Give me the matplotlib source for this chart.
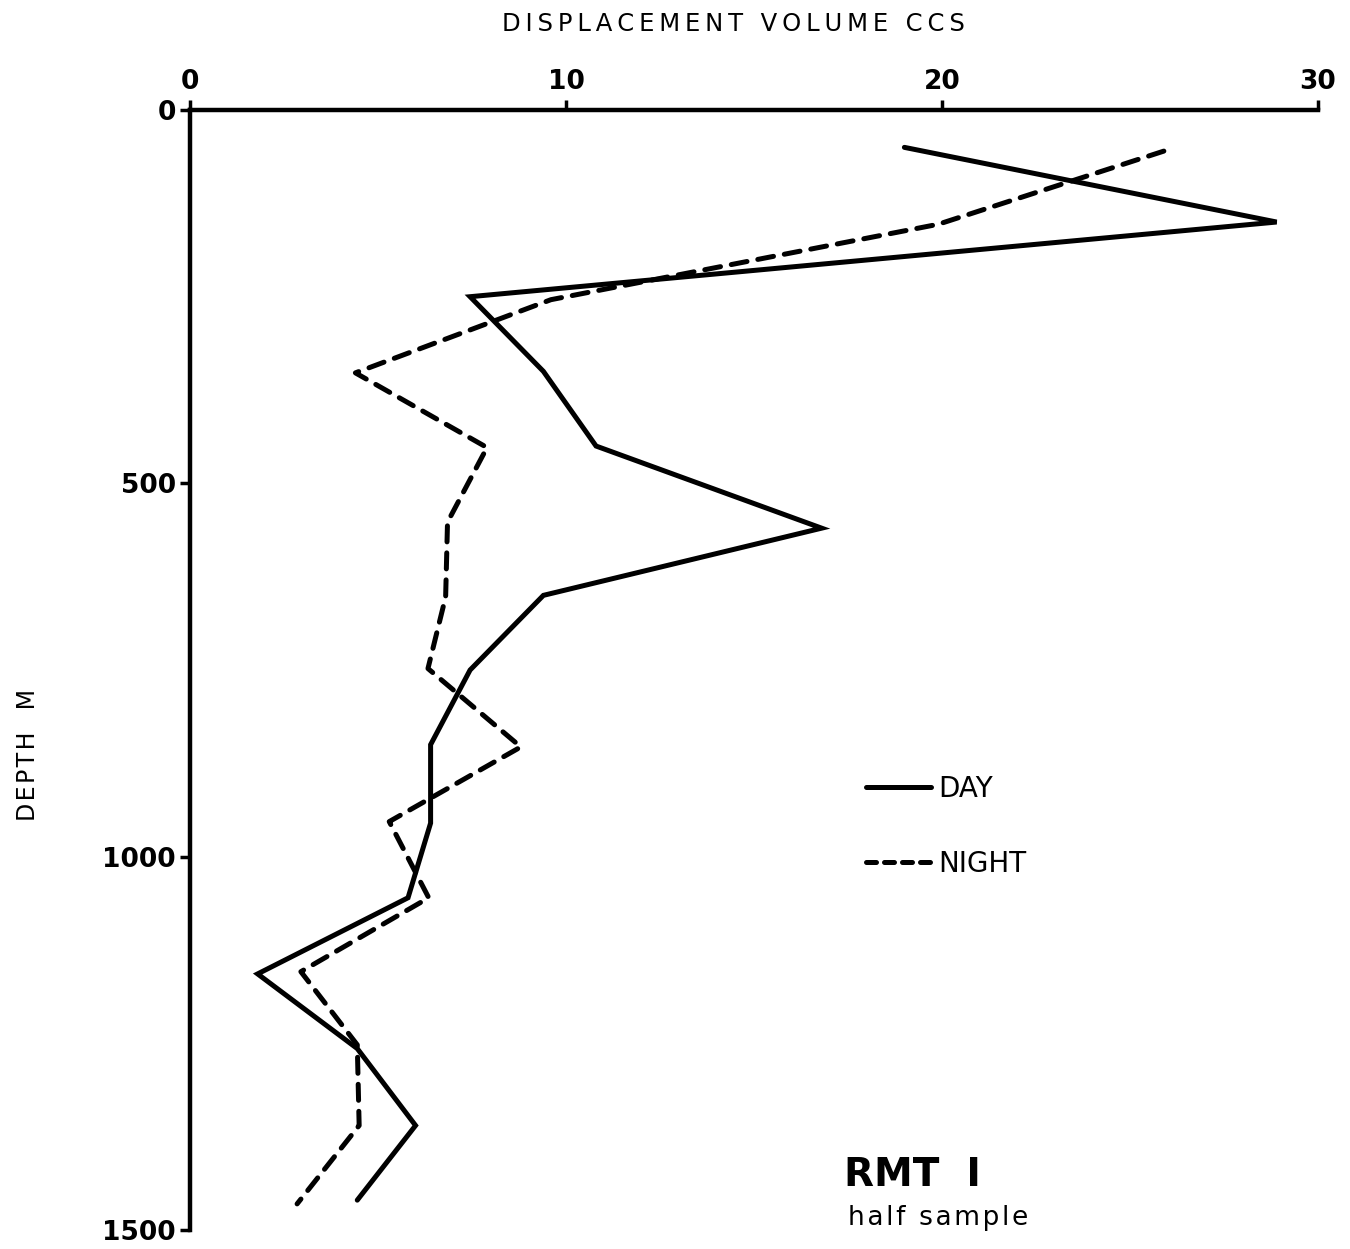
import matplotlib.pyplot as plt
from matplotlib.lines import Line2D

# displacement volume (ccs) against depth (m), RMT 1 half sample
day_depth = [50, 150, 250, 350, 450, 560, 650, 750, 850, 955, 1055, 1157, 1257, 1360, 1460]
day_vol = [19.0, 28.9, 7.45, 9.4, 10.8, 16.8, 9.4, 7.45, 6.4, 6.4, 5.8, 1.8, 4.45, 6.0, 4.45]

night_depth = [55, 153, 254, 352, 452, 552, 652, 748, 853, 953, 1055, 1154, 1252, 1360, 1465]
night_vol = [25.9, 19.9, 9.6, 4.4, 7.9, 6.85, 6.8, 6.33, 8.8, 5.3, 6.35, 2.95, 4.45, 4.5, 2.85]

x_ticks = [0, 10, 20, 30]
y_ticks = [0, 500, 1000, 1500]

tick_font = ['Liberation Sans Narrow', 'DejaVu Sans']


def spaced(s, gap='\u200a'):
    return gap.join(s)


fig = plt.figure(figsize=(13.5, 12.49), dpi=100)
ax = fig.add_axes([0.1407, 0.0152, 0.8356, 0.8967])

lw = 3.6
ax.plot(day_vol, day_depth, color='black', lw=lw,
        solid_joinstyle='miter', solid_capstyle='round', label='DAY')
ax.plot(night_vol, night_depth, color='black', lw=lw, linestyle=(0, (3.2, 2.2)),
        dash_capstyle='round', label='NIGHT')

ax.set_xlim(0, 30)
ax.set_ylim(1500, 0)

for side in ['right', 'bottom']:
    ax.spines[side].set_visible(False)
for side in ['top', 'left']:
    ax.spines[side].set_linewidth(3.2)

ax.xaxis.tick_top()
ax.set_xticks(x_ticks)
ax.set_yticks(y_ticks)
ax.tick_params(axis='x', direction='out', length=7, width=2.5, pad=4,
               labelsize=19)
ax.tick_params(axis='y', direction='out', length=7, width=2.5, pad=3,
               labelsize=19)
for lab in ax.get_xticklabels() + ax.get_yticklabels():
    lab.set_family(tick_font)
    lab.set_fontweight('bold')

fig.text(0.543, 0.981, spaced('DISPLACEMENT VOLUME CCS', '\u2009'),
         ha='center', va='center', fontsize=17.5, family='DejaVu Sans')
fig.text(0.021, 0.3955, spaced('DEPTH  M', '\u200a'), ha='center',
         va='center', rotation=90, fontsize=17, family='DejaVu Sans')

handles = [
    Line2D([], [], color='black', lw=lw, solid_capstyle='round'),
    Line2D([], [], color='black', lw=lw, linestyle=(0, (2.0, 1.6)),
           dash_capstyle='round'),
]
ax.legend(handles, ['DAY', 'NIGHT'], loc='upper left',
          bbox_to_anchor=(0.577, 0.429), frameon=False,
          handlelength=2.35, handletextpad=0.25, labelspacing=1.7,
          prop={'family': 'DejaVu Sans', 'size': 20})

ax.text(0.58, 0.049, 'RMT  I', transform=ax.transAxes, fontsize=28,
        fontweight='bold', family='DejaVu Sans', va='center')
ax.text(0.583, 0.0107, spaced('half sample', '\u200a'),
        transform=ax.transAxes, fontsize=19, family='DejaVu Sans',
        va='center')

fig.savefig('out.png', dpi=100)
plt.close(fig)
